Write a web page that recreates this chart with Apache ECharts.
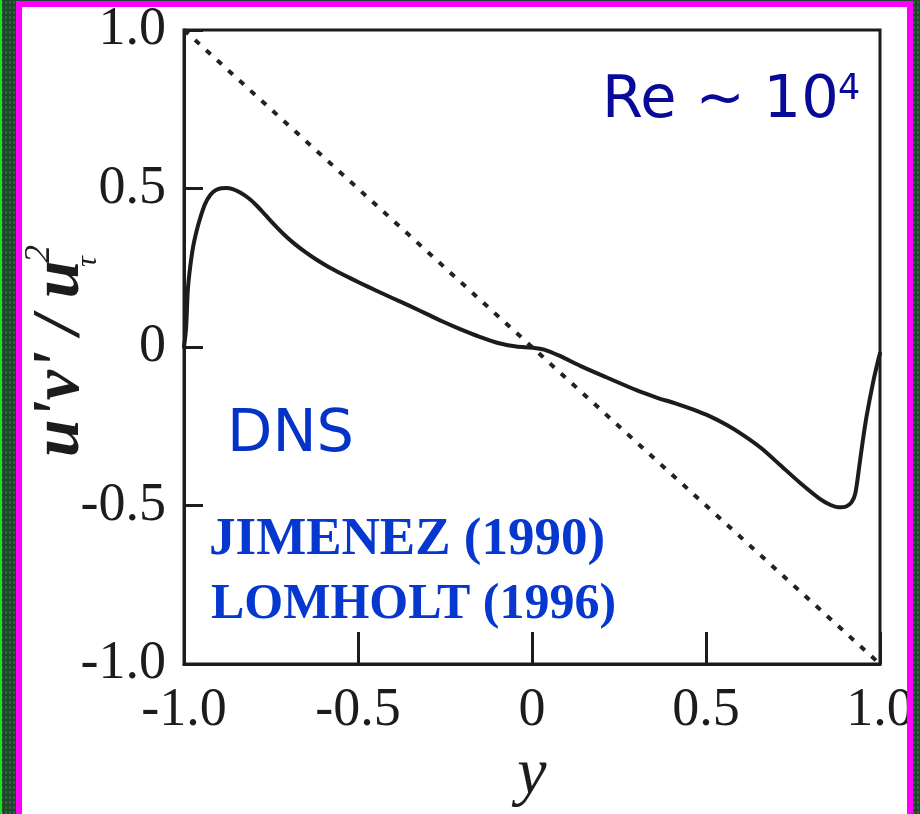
<!DOCTYPE html>
<html>
<head>
<meta charset="utf-8">
<script src="https://cdn.jsdelivr.net/npm/echarts@6/dist/echarts.min.js"></script>
<style>
  html, body { margin: 0; padding: 0; }
  body {
    width: 920px; height: 814px; overflow: hidden; position: relative;
    background: #1c472a;
    background-image: radial-gradient(rgba(90,150,100,0.35) 1px, transparent 1.5px);
    background-size: 4px 5px;
  }
  #edge { position: absolute; left: 0; top: 0; width: 2px; height: 814px; background: #1fe01f; }
  #panel { position: absolute; left: 16px; top: 1px; width: 897px; height: 840px; background: #ffffff; }
  #chart { position: absolute; left: 0; top: 0; width: 920px; height: 814px; z-index: 1; }
  #frame { position: absolute; left: 16px; top: 1px; width: 897px; height: 840px;
           box-sizing: border-box; border: 6px solid #ff00ff; z-index: 2; pointer-events: none; }
</style>
</head>
<body>
<div id="edge"></div>
<div id="panel"></div>
<div id="chart"></div>
<div id="frame"></div>
<script>
// Wall-normal coordinate y and Reynolds shear stress u'v'/u_tau^2 (DNS channel flow)
const wallY = [
  -1.000, -0.994, -0.989, -0.982, -0.974, -0.964, -0.954, -0.940, -0.925, -0.910,
  -0.893, -0.877, -0.860, -0.840, -0.815, -0.790, -0.765, -0.740, -0.712, -0.684,
  -0.652, -0.620, -0.582, -0.542, -0.494, -0.450, -0.400, -0.350, -0.300, -0.260,
  -0.210, -0.150, -0.095, -0.045, 0.000, 0.035, 0.080, 0.140, 0.215, 0.300,
  0.360, 0.410, 0.460, 0.510, 0.560, 0.610, 0.660, 0.713, 0.770, 0.825,
  0.858, 0.880, 0.902, 0.918, 0.929, 0.940, 0.950, 0.962, 0.980, 0.994, 1.000
];
const shearStress = [
  0.000, 0.060, 0.180, 0.255, 0.315, 0.365, 0.405, 0.450, 0.479, 0.494,
  0.501, 0.502, 0.498, 0.488, 0.470, 0.445, 0.415, 0.385, 0.354, 0.327,
  0.300, 0.276, 0.251, 0.228, 0.202, 0.179, 0.154, 0.129, 0.103, 0.082,
  0.058, 0.032, 0.012, 0.002, -0.002, -0.008, -0.028, -0.060, -0.096, -0.136,
  -0.160, -0.177, -0.196, -0.218, -0.246, -0.280, -0.320, -0.372, -0.428, -0.477,
  -0.498, -0.505, -0.503, -0.490, -0.462, -0.380, -0.300, -0.215, -0.112, -0.045, -0.020
];
// Linear total-stress line, -y
const linearY = [-1.0, 1.0];
const linearStress = [1.0, -1.0];

const xTickLabels = { '-1': '-1.0', '-0.5': '-0.5', '0': '0', '0.5': '0.5', '1': '1.0' };
const yTickLabels = { '-1': '-1.0', '-0.5': '-0.5', '0': '0', '0.5': '0.5', '1': '1.0' };

const ink = '#1c1c1c';
const serif = '"Liberation Serif", "Times New Roman", serif';
const sans = '"DejaVu Sans", Verdana, sans-serif';

const chart = echarts.init(document.getElementById('chart'), null, { renderer: 'canvas' });

chart.setOption({
  backgroundColor: 'transparent',
  animation: false,
  grid: {
    left: 184, right: 40, top: 30, bottom: 146,
    show: true, borderColor: ink, borderWidth: 3, backgroundColor: 'transparent'
  },
  xAxis: {
    type: 'value', min: -1, max: 1, interval: 0.5,
    name: 'y', nameLocation: 'middle', nameGap: 69,
    nameTextStyle: { fontFamily: serif, fontStyle: 'italic', fontSize: 66, color: ink },
    axisLine: { show: true, onZero: false, lineStyle: { color: ink, width: 3 } },
    axisTick: { show: true, inside: true, length: 32, lineStyle: { color: ink, width: 3 } },
    axisLabel: {
      margin: 20, fontFamily: serif, fontSize: 54, color: ink,
      formatter: v => xTickLabels[String(v)] ?? String(v)
    },
    splitLine: { show: false }
  },
  yAxis: {
    type: 'value', min: -1, max: 1, interval: 0.5,
    axisLine: { show: true, onZero: false, lineStyle: { color: ink, width: 3 } },
    axisTick: { show: true, inside: true, length: 19, lineStyle: { color: ink, width: 3 } },
    axisLabel: {
      margin: 18, fontFamily: serif, fontSize: 54, color: ink,
      formatter: v => yTickLabels[String(v)] ?? String(v)
    },
    splitLine: { show: false }
  },
  series: [
    {
      type: 'line', name: 'linear',
      data: linearY.map((x, i) => [x, linearStress[i]]),
      showSymbol: false, silent: true,
      lineStyle: { color: '#222222', width: 4, type: [6, 9] }
    },
    {
      type: 'line', name: 'DNS',
      data: wallY.map((x, i) => [x, shearStress[i]]),
      showSymbol: false, silent: true,
      smooth: 0.25,
      lineStyle: { color: ink, width: 4, cap: 'round', join: 'round' }
    }
  ],
  graphic: [
    {
      type: 'text', x: 602, y: 102, z: 10,
      style: { text: 'Re ~ 10', fontFamily: sans, fontSize: 59, fill: '#0a0a99',
               align: 'left', verticalAlign: 'middle', textAlign: 'left', textVerticalAlign: 'middle' }
    },
    {
      type: 'text', x: 838, y: 90, z: 10,
      style: { text: '4', fontFamily: sans, fontSize: 35, fill: '#0a0a99',
               align: 'left', verticalAlign: 'middle', textAlign: 'left', textVerticalAlign: 'middle' }
    },
    {
      type: 'text', x: 227, y: 436, z: 10,
      style: { text: 'DNS', fontFamily: sans, fontSize: 59, fill: '#0533c8',
               align: 'left', verticalAlign: 'middle', textAlign: 'left', textVerticalAlign: 'middle' }
    },
    {
      type: 'text', x: 209, y: 540, z: 10,
      style: { text: 'JIMENEZ (1990)', fontFamily: serif, fontWeight: 'bold', fontSize: 53,
               fill: '#0638d0', textShadowColor: '#9db8ff', textShadowOffsetX: 2, textShadowOffsetY: 2,
               align: 'left', verticalAlign: 'middle', textAlign: 'left', textVerticalAlign: 'middle' }
    },
    {
      type: 'text', x: 211, y: 605, z: 10,
      style: { text: 'LOMHOLT (1996)', fontFamily: serif, fontWeight: 'bold', fontSize: 50,
               fill: '#0638d0', textShadowColor: '#9db8ff', textShadowOffsetX: 2, textShadowOffsetY: 2,
               align: 'left', verticalAlign: 'middle', textAlign: 'left', textVerticalAlign: 'middle' }
    },
    {
      // y-axis title u'v'/u_tau^2, written bottom-to-top
      type: 'group', x: 60, y: 457, rotation: Math.PI / 2, z: 10,
      children: [
        {
          type: 'text', x: 0, y: 0,
          style: { text: "u'v' / u", fontFamily: serif, fontStyle: 'italic', fontWeight: 'bold',
                   fontSize: 68, fill: ink,
                   align: 'left', verticalAlign: 'middle', textAlign: 'left', textVerticalAlign: 'middle' }
        },
        {
          type: 'text', x: 190, y: 28,
          style: { text: 'τ', fontFamily: serif, fontStyle: 'italic', fontSize: 30, fill: ink,
                   align: 'left', verticalAlign: 'middle', textAlign: 'left', textVerticalAlign: 'middle' }
        },
        {
          type: 'text', x: 194, y: -20,
          style: { text: '2', fontFamily: serif, fontStyle: 'italic', fontSize: 36, fill: ink,
                   align: 'left', verticalAlign: 'middle', textAlign: 'left', textVerticalAlign: 'middle' }
        }
      ]
    }
  ]
});
</script>
</body>
</html>
